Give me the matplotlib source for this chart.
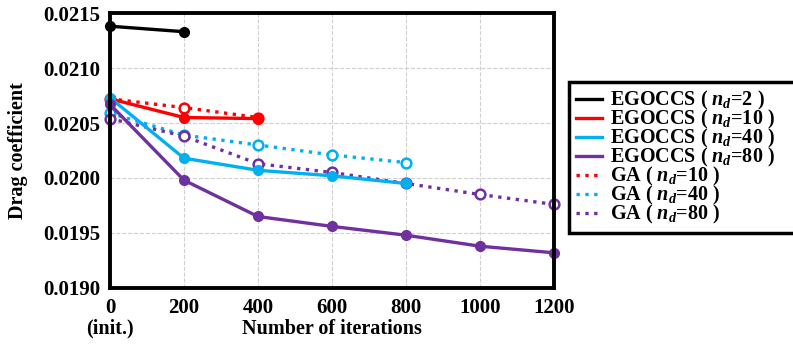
import numpy as np
import matplotlib.pyplot as plt
import matplotlib.transforms as mtransforms

plt.rcParams['font.family'] = ['Liberation Serif', 'DejaVu Serif']
plt.rcParams['font.weight'] = 'bold'
plt.rcParams['mathtext.fontset'] = 'custom'
plt.rcParams['mathtext.it'] = 'Liberation Serif:italic:bold'
plt.rcParams['mathtext.rm'] = 'Liberation Serif:bold'

# iterations
x_ego2 = [0, 200]
x_ego10 = [0, 200, 400]
x_ego40 = [0, 200, 400, 600, 800]
x_ego80 = [0, 200, 400, 600, 800, 1000, 1200]
x_ga10 = [0, 200, 400]
x_ga40 = [0, 200, 400, 600, 800]
x_ga80 = [0, 200, 400, 600, 800, 1000, 1200]

# drag coefficient values
ego2 = [0.02138, 0.02133]
ego10 = [0.02072, 0.02055, 0.02054]
ego40 = [0.02073, 0.02018, 0.02007, 0.02002, 0.01995]
ego80 = [0.02067, 0.01998, 0.01965, 0.01956, 0.01948, 0.01938, 0.01932]
ga10 = [0.02072, 0.02064, 0.02055]
ga40 = [0.02059, 0.02039, 0.02030, 0.02021, 0.02014]
ga80 = [0.02054, 0.02038, 0.02013, 0.02005, 0.01995, 0.01985, 0.01976]

xticks = [0, 200, 400, 600, 800, 1000, 1200]

black = '#000000'
red = '#FF0000'
cyan = '#00B0F0'
purple = '#7030A0'

fs = 14.5
tfs = 15

fig = plt.figure(figsize=(7.93, 3.44), dpi=100)
ax = fig.add_axes([0.1387, 0.1628, 0.5599, 0.7994])

lw = 2.4
ms = 7
# dotted GA curves underneath
ax.plot(x_ga10, ga10, ':', color=red, lw=lw, marker='o', ms=ms, mfc='white', mew=1.8,
        label=r'GA ( $n_d$=10 )', zorder=2, clip_on=False)
ax.plot(x_ga40, ga40, ':', color=cyan, lw=lw, marker='o', ms=ms, mfc='white', mew=1.8,
        label=r'GA ( $n_d$=40 )', zorder=2, clip_on=False)
ax.plot(x_ga80, ga80, ':', color=purple, lw=lw, marker='o', ms=ms, mfc='white', mew=1.8,
        label=r'GA ( $n_d$=80 )', zorder=2, clip_on=False)
# solid EGOCCS curves
ax.plot(x_ego2, ego2, '-', color=black, lw=lw, marker='o', ms=ms,
        label=r'EGOCCS ( $n_d$=2 )', zorder=3, clip_on=False)
ax.plot(x_ego10, ego10, '-', color=red, lw=lw, marker='o', ms=ms,
        label=r'EGOCCS ( $n_d$=10 )', zorder=3, clip_on=False)
ax.plot(x_ego40, ego40, '-', color=cyan, lw=lw, marker='o', ms=ms,
        label=r'EGOCCS ( $n_d$=40 )', zorder=3, clip_on=False)
ax.plot(x_ego80, ego80, '-', color=purple, lw=lw, marker='o', ms=ms,
        label=r'EGOCCS ( $n_d$=80 )', zorder=3, clip_on=False)

ax.set_xlim(0, 1200)
ax.set_ylim(0.0190, 0.0215)
ax.set_xticks(xticks)
ax.set_xticklabels([str(v) for v in xticks], fontsize=tfs, fontweight='bold')
# second line under the first tick
trans = mtransforms.blended_transform_factory(ax.transData, ax.transAxes)
ax.text(xticks[0], -0.148, '(init.)', transform=trans, ha='center', va='center',
        fontsize=fs, fontweight='bold')
yt = np.arange(0.0190, 0.02151, 0.0005)
ax.set_yticks(yt)
ax.set_yticklabels(['%.4f' % v for v in yt], fontsize=tfs, fontweight='bold')
ax.tick_params(axis='x', length=0, pad=7)
ax.tick_params(axis='y', length=0, pad=7)
ax.grid(True, ls='--', color='#d0d0d0', lw=0.8)
ax.set_axisbelow(True)
for s in ax.spines.values():
    s.set_linewidth(2.8)
    s.set_zorder(5)

ax.set_xlabel('Number of iterations', fontsize=fs, fontweight='bold')
ax.xaxis.set_label_coords(0.5, -0.148)
ax.xaxis.label.set_va('center')
ax.set_ylabel('Drag coefficient', fontsize=fs, fontweight='bold', labelpad=11)

handles, labels = ax.get_legend_handles_labels()
order = [3, 4, 5, 6, 0, 1, 2]
leg_handles = []
for i in order:
    h = handles[i]
    leg_handles.append(plt.Line2D([], [], color=h.get_color(), ls=h.get_linestyle(), lw=lw))
leg = fig.legend(leg_handles, [labels[i] for i in order], loc='upper left',
                 bbox_to_anchor=(0.7175, 0.4, 0.30, 0.3616), mode='expand',
                 handlelength=1.3,
                 handletextpad=0.4, labelspacing=-0.2, borderpad=0.35,
                 borderaxespad=0.0,
                 fancybox=False, framealpha=1, edgecolor='black',
                 prop={'weight': 'bold', 'size': fs})
leg.get_frame().set_linewidth(2.5)

fig.savefig('out.png', dpi=100)
